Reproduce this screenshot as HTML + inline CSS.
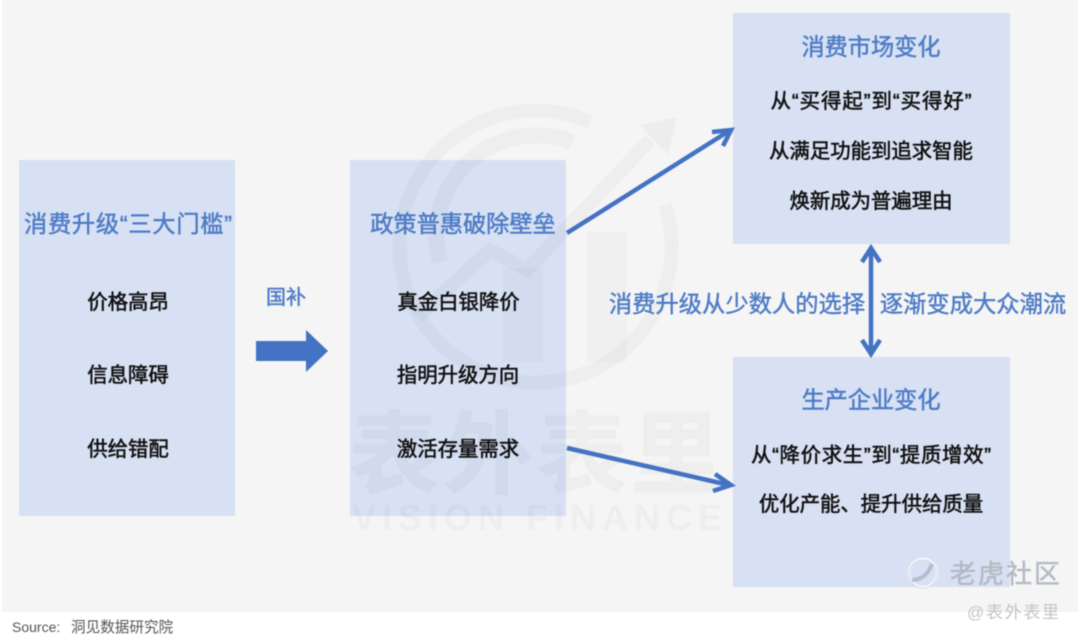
<!DOCTYPE html>
<html><head><meta charset="utf-8">
<style>
html,body{margin:0;padding:0;background:#fff;width:1080px;height:636px;overflow:hidden}
svg{display:block;filter:blur(.5px)}
text{font-family:"Liberation Sans","Noto Sans CJK SC",sans-serif}
.t{font-size:23.2px;fill:#4f7cc6;text-anchor:middle;stroke:#4f7cc6;stroke-width:.5px}
.b{font-size:20.4px;fill:#111;text-anchor:middle;stroke:#111;stroke-width:.55px}
</style></head><body>
<svg width="1080" height="636" viewBox="0 0 1080 636" xmlns="http://www.w3.org/2000/svg">
<rect x="2" y="0" width="1076" height="612" fill="#f5f5f5"/>
<rect x="19" y="160" width="216" height="356" fill="#d7e1f3"/>
<rect x="350" y="160" width="216" height="356" fill="#d7e1f3"/>
<rect x="733" y="13" width="277" height="231" fill="#d7e1f3"/>
<rect x="733" y="357" width="277" height="230" fill="#d7e1f3"/>
<g fill="none" stroke="#000" stroke-opacity=".028">
<path d="M590 122A136 136 0 1 0 665 205" stroke-width="14"/>
<path d="M572 142A100 100 0 0 0 440 262" stroke-width="16"/>
<path d="M417 317L490 250L527 270L650 140" stroke-width="14"/>
</g>
<path d="M640 125L677 117L668 155Z" fill="#000" fill-opacity=".03"/>
<g fill="#000" fill-opacity=".018">
<rect x="503" y="268" width="40" height="94"/>
<rect x="587" y="232" width="40" height="130"/>
</g>
<text x="535" y="486" text-anchor="middle" font-size="90" font-weight="700" fill="#000" fill-opacity=".028" stroke="#000" stroke-opacity=".012" stroke-width="2" textLength="372">表外表里</text>
<text x="537" y="530" text-anchor="middle" font-size="36" font-weight="700" fill="#000" fill-opacity=".028" textLength="370">VISION FINANCE</text>

<text class="t" x="128" y="232" textLength="208" lengthAdjust="spacing">消费升级“三大门槛”</text>
<text class="b" x="128" y="309">价格高昂</text>
<text class="b" x="128" y="382">信息障碍</text>
<text class="b" x="128" y="456">供给错配</text>

<text x="286" y="304" font-size="20" fill="#4f7cc6" text-anchor="middle" stroke="#4f7cc6" stroke-width=".5">国补</text>
<path d="M256 341H306V330L328 351L306 372V361H256Z" fill="#4472c4"/>

<text class="t" x="463" y="232">政策普惠破除壁垒</text>
<text class="b" x="458.5" y="309">真金白银降价</text>
<text class="b" x="458" y="382">指明升级方向</text>
<text class="b" x="458" y="456">激活存量需求</text>

<text class="t" x="871" y="55">消费市场变化</text>
<text class="b" x="871" y="108" textLength="201" lengthAdjust="spacing">从“买得起”到“买得好”</text>
<text class="b" x="871" y="158">从满足功能到追求智能</text>
<text class="b" x="871" y="208">焕新成为普遍理由</text>

<text class="t" x="871" y="408">生产企业变化</text>
<text class="b" x="871" y="462" textLength="240" lengthAdjust="spacing">从“降价求生”到“提质增效”</text>
<text class="b" x="871" y="511">优化产能、提升供给质量</text>

<text x="737" y="312" font-size="23.3" fill="#4f7cc6" text-anchor="middle" stroke="#4f7cc6" stroke-width=".45">消费升级从少数人的选择</text>
<text x="973" y="312" font-size="23.3" fill="#4f7cc6" text-anchor="middle" stroke="#4f7cc6" stroke-width=".45">逐渐变成大众潮流</text>

<g fill="none" stroke="#4472c4" stroke-width="4.5">
<path d="M567 233L729 131"/>
<path d="M712 132L731 130L723 146"/>
<path d="M567 448L729 485"/>
<path d="M715 474L731 485L713 491"/>
<path d="M871 248V354"/>
<path d="M862 262L871 248L880 262"/>
<path d="M862 340L871 354L880 340"/>
</g>

<circle cx="923" cy="573" r="14" fill="none" stroke="#fff" stroke-opacity=".8" stroke-width="2.5"/>
<circle cx="923" cy="574" r="14" fill="none" stroke="#aab0ba" stroke-opacity=".4" stroke-width="1"/>
<path d="M912 580Q926 580 932 564" fill="none" stroke="#9fa6b2" stroke-width="4" stroke-opacity=".6"/>
<text x="1005" y="583" text-anchor="middle" font-size="26" fill="#b4bac4" stroke="#b4bac4" stroke-width=".5" textLength="110">老虎社区</text>
<text x="1013" y="618" text-anchor="middle" font-size="17" fill="#c4c4c4" textLength="92">@表外表里</text>
<text x="12" y="632" font-size="14" fill="#555">Source:</text>
<text x="71" y="632" font-size="14.6" fill="#555">洞见数据研究院</text>
</svg>
</body></html>
